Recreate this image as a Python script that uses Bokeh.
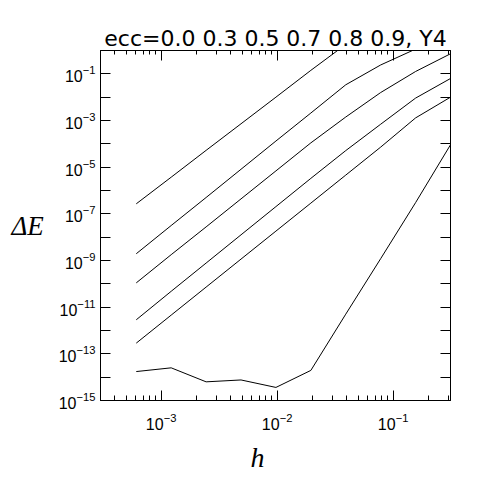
from bokeh.plotting import figure
from bokeh.models import LogAxis, FixedTicker, Title, CustomJSTickFormatter
from bokeh.embed import file_html
from bokeh.resources import INLINE

# step sizes h
h = [6.1035e-4, 1.2207e-3, 2.4414e-3, 4.8828e-3, 9.7656e-3,
     1.9531e-2, 3.9063e-2, 7.8125e-2, 1.5625e-1, 3.125e-1]

# energy error for each eccentricity (top curve = largest ecc)
dE_09 = [2.69e-7, 3.72e-6, 5.25e-5, 7.24e-4, 1.00e-2, 1.41e-1, 1.82]
dE_08 = [1.95e-9, 3.16e-8, 5.01e-7, 8.13e-6, 1.32e-4, 2.09e-3, 3.39e-2, 2.40e-1, 1.15]
dE_07 = [1.10e-10, 1.78e-9, 2.75e-8, 4.37e-7, 6.92e-6, 1.10e-4, 1.41e-3, 1.58e-2, 1.26e-1, 7.24e-1]
dE_05 = [2.88e-12, 4.79e-11, 7.76e-10, 1.26e-8, 2.04e-7, 3.31e-6, 5.13e-5, 6.92e-4, 9.12e-3, 6.31e-2]
dE_03 = [2.88e-13, 4.57e-12, 7.24e-11, 1.15e-9, 1.82e-8, 2.88e-7, 4.57e-6, 7.24e-5, 1.29e-3, 1.00e-2]
dE_00 = [1.74e-14, 2.51e-14, 6.31e-15, 7.59e-15, 3.63e-15, 1.95e-14, 5.01e-12, 1.20e-9, 3.02e-7, 9.12e-5]
series = [dE_09, dE_08, dE_07, dE_05, dE_03, dE_00]

title_text = "ecc=0.0 0.3 0.5 0.7 0.8 0.9, Y4"
x_label = "h"
y_label = "ΔE"

p = figure(x_axis_type="log", y_axis_type="log",
           x_range=(3.0e-4, 0.3125), y_range=(1e-15, 1.0),
           frame_width=350, frame_height=350,
           min_border_left=100, min_border_top=50, min_border_right=20, min_border_bottom=20,
           output_backend="svg", toolbar_location=None, title=title_text)

p.background_fill_color = "white"
p.border_fill_color = "white"
p.outline_line_color = "black"
p.grid.visible = False

p.title.align = "center"
p.title.text_font = "DejaVu Sans"
p.title.text_font_size = "22px"
p.title.text_font_style = "normal"
p.title.text_color = "black"
p.title.standoff = 0

for d in series:
    p.line(h[:len(d)], d, line_color="black", line_width=1)

y_major = [10.0 ** e for e in range(-15, 0, 2)]
y_minor = [10.0 ** e for e in range(-14, 0, 2)]
x_major = [1e-3, 1e-2, 1e-1]
x_minor = [m * 10.0 ** e for e in (-4, -3, -2, -1) for m in range(2, 10)
           if 3.0e-4 < m * 10.0 ** e < 0.3125]

def style(ax, tick_in, minor_in, labels=True):
    ax.axis_line_color = "black"
    ax.axis_line_width = 1
    ax.major_tick_in = tick_in
    ax.major_tick_out = 0
    ax.minor_tick_in = minor_in
    ax.minor_tick_out = 0
    ax.major_tick_line_color = "black"
    ax.minor_tick_line_color = "black"
    ax.major_label_text_font = "Liberation Sans"
    ax.major_label_text_font_size = "16px"
    ax.major_label_text_color = "black"
    if not labels:
        ax.formatter = CustomJSTickFormatter(code="return ''")

xb = p.xaxis[0]
xb.ticker = FixedTicker(ticks=x_major, minor_ticks=x_minor)
style(xb, 10, 5)
xb.major_label_standoff = 12

yl = p.yaxis[0]
yl.ticker = FixedTicker(ticks=y_major, minor_ticks=y_minor)
style(yl, 10, 10)
yl.major_label_standoff = 5
yl.axis_label = y_label
yl.axis_label_orientation = "horizontal"
yl.axis_label_text_font = "Liberation Serif"
yl.axis_label_text_font_style = "italic"
yl.axis_label_text_font_size = "27px"
yl.axis_label_text_color = "black"
yl.axis_label_standoff = 12

xt = LogAxis(ticker=FixedTicker(ticks=x_major, minor_ticks=x_minor))
style(xt, 10, 4, labels=False)
xt.major_label_standoff = 0
p.add_layout(xt, "above")

yr = LogAxis(ticker=FixedTicker(ticks=y_major, minor_ticks=y_minor))
style(yr, 10, 10, labels=False)
yr.major_label_standoff = 0
p.add_layout(yr, "right")

xl = Title(text=x_label, align="left", offset=150, text_font="Liberation Serif",
           text_font_style="italic", text_font_size="28px", text_color="black",
           standoff=15)
p.add_layout(xl, "below")

open("out.html", "w").write(file_html(p, INLINE))
